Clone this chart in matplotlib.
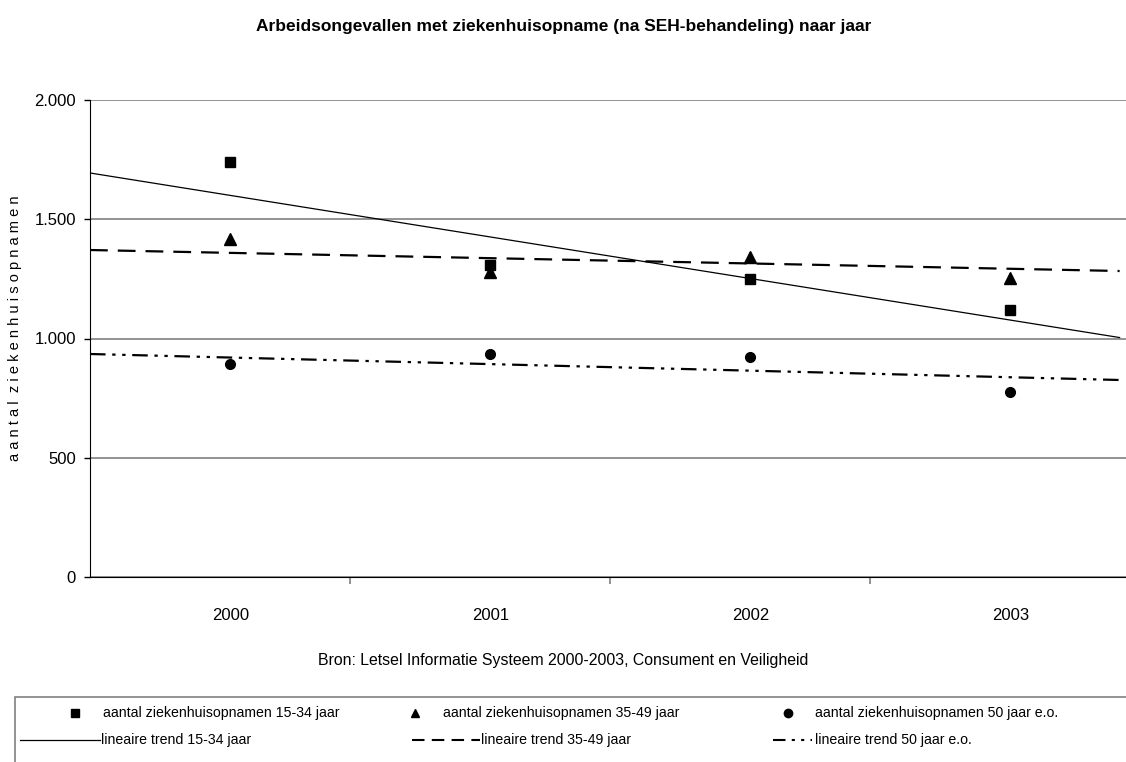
import matplotlib
matplotlib.use('Agg')
import matplotlib.pyplot as plt
from matplotlib.lines import Line2D
from matplotlib.patches import Rectangle
from matplotlib.ticker import FuncFormatter

plt.rcParams['font.family'] = ['Liberation Sans', 'DejaVu Sans']

# gegevens
jaren = ['2000', '2001', '2002', '2003']
opn_1534 = [1740, 1308, 1250, 1120]
opn_3549 = [1418, 1277, 1342, 1254]
opn_50 = [893, 935, 922, 776]

# trendlijnen: waarde aan linker- en rechterkant van het plotgebied
trend_1534 = [1694, 1004]
trend_3549 = [1371, 1283]
trend_50 = [935, 826]

W, H = 1126, 762
fig = plt.figure(figsize=(W / 100, H / 100), dpi=100)

# plotgebied (loopt rechts iets buiten de figuur, zoals in het origineel)
ax = fig.add_axes([90 / W, (H - 577) / H, 1040 / W, 477 / H])
xs = list(range(len(jaren)))
x_links, x_rechts = -0.54, 3.46
x_trend = [x_links, 3.42]

ax.plot(xs, opn_1534, ls='none', marker='s', ms=7, color='black', zorder=5)
ax.plot(xs, opn_3549, ls='none', marker='^', ms=8, color='black', zorder=5)
ax.plot(xs, opn_50, ls='none', marker='o', ms=7, color='black', zorder=5)

ax.plot(x_trend, trend_1534, color='black', lw=0.9)
ax.plot(x_trend, trend_3549, color='black', lw=1.6, dashes=(8, 4.5))
ax.plot(x_trend, trend_50, color='black', lw=1.6, dashes=(7, 3, 1.5, 3, 1.5, 3))

ax.set_xlim(x_links, x_rechts)
ax.set_ylim(0, 2000)
ax.set_yticks([0, 500, 1000, 1500, 2000])
ax.yaxis.set_major_formatter(FuncFormatter(lambda v, p: '{:,.0f}'.format(v).replace(',', '.')))
ax.grid(axis='y', color='#808080', lw=1.2)
ax.set_axisbelow(True)
for s in ['top', 'right']:
    ax.spines[s].set_visible(False)
ax.spines['left'].set_color('black')
ax.spines['bottom'].set_color('black')
ax.tick_params(axis='y', length=4, width=1, labelsize=12, pad=6)

ax.set_xticks(xs)
ax.set_xticklabels(jaren)
ax.set_xticks([x + 0.46 for x in xs], minor=True)
ax.tick_params(axis='x', which='major', length=0, labelsize=12, pad=22)
ax.tick_params(axis='x', which='minor', length=5, color='#808080', width=1.2)

fig.text(15 / W, 1 - 328 / H, 'a a n t a l  z i e k e n h u i s o p n a m e n',
         rotation=90, ha='center', va='center', fontsize=10.5)

fig.text(564 / W, 1 - 27 / H,
         'Arbeidsongevallen met ziekenhuisopname (na SEH-behandeling) naar jaar',
         ha='center', va='center', fontsize=12.5, fontweight='bold')
fig.text(563 / W, 1 - 660 / H,
         'Bron: Letsel Informatie Systeem 2000-2003, Consument en Veiligheid',
         ha='center', va='center', fontsize=11.4)

# legenda met de hand
fig.patches.append(Rectangle((15 / W, -0.1), 1.2, (H - 697) / H + 0.1, transform=fig.transFigure,
                             fill=False, edgecolor='#808080', lw=1.2))

def fy(y):
    return 1 - y / H

def fx(x):
    return x / W

rij1, rij2 = 713, 740
items1 = [(75, 103, 's', 'aantal ziekenhuisopnamen 15-34 jaar'),
          (415, 443, '^', 'aantal ziekenhuisopnamen 35-49 jaar'),
          (788, 815, 'o', 'aantal ziekenhuisopnamen 50 jaar e.o.')]
for mx, tx, mk, lab in items1:
    fig.add_artist(Line2D([fx(mx)], [fy(rij1)], marker=mk, ms=6, color='black',
                          ls='none', transform=fig.transFigure))
    fig.text(fx(tx), fy(rij1), lab, ha='left', va='center', fontsize=10.2)

items2 = [(20, 100, 101, {'lw': 0.9}, 'lineaire trend 15-34 jaar'),
          (412, 480, 481, {'lw': 1.5, 'dashes': (6, 3.5)}, 'lineaire trend 35-49 jaar'),
          (773, 812, 815, {'lw': 1.5, 'dashes': (6, 3, 1.5, 3, 1.5, 3)}, 'lineaire trend 50 jaar e.o.')]
for x0, x1, tx, st, lab in items2:
    fig.add_artist(Line2D([fx(x0), fx(x1)], [fy(rij2), fy(rij2)], color='black',
                          transform=fig.transFigure, **st))
    fig.text(fx(tx), fy(rij2), lab, ha='left', va='center', fontsize=10.2)

fig.savefig('out.png', dpi=100)
